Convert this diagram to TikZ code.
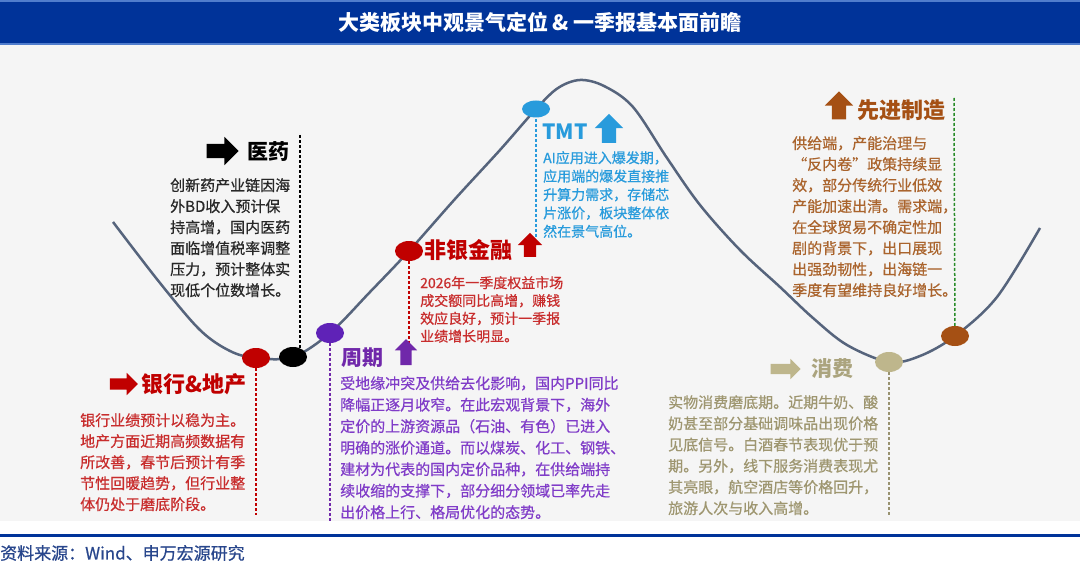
\documentclass[tikz,border=0pt]{standalone}
\usepackage{fontspec}
\setmainfont{Noto Sans CJK SC}
\newfontfamily\bodyfont{Noto Sans CJK SC}[RawFeature={embolden=0.6}]
\usepackage{xcolor}
\usepackage{tikz}
\usetikzlibrary{shapes, shapes.geometric, shapes.arrows, positioning, calc}

\definecolor{titleblue}{RGB}{0,51,153}
\definecolor{titleedge}{RGB}{80,125,205}
\definecolor{bggray}{RGB}{245,245,245}
\definecolor{curvegray}{RGB}{86,100,124}
\definecolor{bankred}{RGB}{192,0,0}
\definecolor{bankbody}{RGB}{200,45,45}
\definecolor{cycpurple}{RGB}{112,40,170}
\definecolor{cycbody}{RGB}{128,60,200}
\definecolor{tmtblue}{RGB}{40,155,220}
\definecolor{consbeige}{RGB}{190,182,140}
\definecolor{consbody}{RGB}{158,150,112}
\definecolor{mfgbrown}{RGB}{165,80,20}
\definecolor{mfgbody}{RGB}{170,100,45}
\definecolor{mfggreen}{RGB}{40,140,40}
\definecolor{medbody}{RGB}{40,40,40}
\definecolor{srcblue}{RGB}{40,70,140}

\begin{document}
\begin{tikzpicture}[x=1pt, y=-1pt,
    dot/.style={ellipse, minimum width=28pt, minimum height=20pt, inner sep=0pt},
    rarrow/.style={single arrow, inner xsep=0pt, inner ysep=#1, single arrow head extend=#1, minimum height=30pt},
    uarrow/.style={single arrow, rotate=90, inner xsep=0pt, inner ysep=#1, single arrow head extend=#1, minimum height=27pt},
    lbl/.style={anchor=west, inner sep=0pt, font=\fontsize{21}{21}\selectfont\bfseries},
    body/.style={anchor=north west, inner sep=0pt, align=left, font=\fontsize{15}{21}\selectfont\bodyfont},
    smallbody/.style={anchor=north west, inner sep=0pt, align=left, font=\fontsize{14}{17.8}\selectfont\bodyfont},
    vline/.style={line width=1.5pt, dash pattern=on 3pt off 2pt},
    curve/.style={line width=2.5pt, color=curvegray}
]
% frame
\useasboundingbox (0,0) rectangle (1080,567);
\fill[white] (0,0) rectangle (1080,567);
\fill[bggray] (0,45) rectangle (1080,521);
\fill[titleblue] (0,0) rectangle (1080,45);
\draw[titleedge, line width=1.5pt] (0,1) -- (1080,1);
\draw[titleedge, line width=1.5pt] (0,44) -- (1080,44);
\node[text=white, font=\fontsize{21}{21}\selectfont\bfseries] (title) at (540,22) {大类板块中观景气定位 \& 一季报基本面前瞻};
\draw[titleblue, line width=3pt] (0,535) -- (1080,535);
\node[anchor=west, inner sep=0pt, text=srcblue, font=\fontsize{17}{17}\selectfont\bodyfont] (src) at (0,553) {资料来源：Wind、申万宏源研究};

% points on the curve
\coordinate (pYH) at (256,358);
\coordinate (pYY) at (293,357);
\coordinate (pZQ) at (330,333);
\coordinate (pFY) at (409,251);
\coordinate (pTMT) at (536,109);
\coordinate (pXF) at (889,362);
\coordinate (pZZ) at (955,336);

\draw[curve] plot[smooth, tension=0.55] coordinates {(113,222) (160,283) (200,330) (230,351) (pYH) (pYY) (pZQ) (370,292) (pFY) (455,199) (500,150) (pTMT) (558,88) (580,80) (604,86) (633,107) (667,158) (700,205) (740,250) (780,287) (813,318) (847,345) (pXF) (920,356) (pZZ) (997,297) (1040,228)};

% end points of the dashed lines
\coordinate (eYH) at (256,515);
\coordinate (eYY) at (300,135);
\coordinate (eZQ) at (330,521);
\coordinate (eFY) at (409,345);
\coordinate (eTMT) at (536,238);
\coordinate (eXF) at (889,515);
\coordinate (eZZ) at (954,98);

\draw[vline, bankred] (pYH) -- (eYH);
\draw[vline, black] (eYY) -- (eYY |- pYY);
\draw[vline, cycpurple] (pZQ) -- (eZQ);
\draw[vline, bankred] (pFY) -- (eFY);
\draw[vline, tmtblue] (pTMT) -- (eTMT);
\draw[vline, consbeige!80!black] (pXF) -- (eXF);
\draw[vline, mfggreen] (eZZ) -- (pZZ);

% dots
\node[dot, fill=bankred] (dYH) at (pYH) {};
\node[dot, fill=black] (dYY) at (pYY) {};
\node[dot, fill=cycpurple!85!blue] (dZQ) at (pZQ) {};
\node[dot, fill=bankred] (dFY) at (pFY) {};
\node[dot, fill=tmtblue, minimum height=17pt] (dTMT) at (pTMT) {};
\node[dot, fill=consbeige] (dXF) at (pXF) {};
\node[dot, fill=mfgbrown] (dZZ) at (pZZ) {};

% 医药
\node[rarrow=7pt, fill=black, minimum height=32pt] (aYY) at (219,151) {};
\node[lbl, right=8pt of aYY] (lYY) {医药};
\node[body, text=medbody] (bYY) at (170,178) {创新药产业链因海\\外BD收入预计保\\持高增，国内医药\\面临增值税率调整\\压力，预计整体实\\现低个位数增长。};

% 银行&地产
\node[rarrow=5.5pt, fill=bankred, minimum height=28pt] (aYH) at (121,384) {};
\node[lbl, text=bankred, font=\fontsize{22}{22}\selectfont\bfseries, right=3pt of aYH] (lYH) {银行\&地产};
\node[body, text=bankbody] (bYH) at (80,413) {银行业绩预计以稳为主。\\地产方面近期高频数据有\\所改善，春节后预计有季\\节性回暖趋势，但行业整\\体仍处于磨底阶段。};

% 周期
\node[lbl, text=cycpurple] (lZQ) at (341,358) {周期};
\node[uarrow=5.5pt, fill=cycpurple, minimum height=26pt] (aZQ) at (406,355) {};
\node[body, text=cycbody, font=\fontsize{15}{21.5}\selectfont\bodyfont] (bZQ) at (340,376) {受地缘冲突及供给去化影响，国内PPI同比\\降幅正逐月收窄。在此宏观背景下，海外\\定价的上游资源品（石油、有色）已进入\\明确的涨价通道。而以煤炭、化工、钢铁、\\建材为代表的国内定价品种，在供给端持\\续收缩的支撑下，部分细分领域已率先走\\出价格上行、格局优化的态势。};

% 非银金融
\node[lbl, text=bankred, font=\fontsize{22}{22}\selectfont\bfseries] (lFY) at (424,250) {非银金融};
\node[uarrow=6pt, fill=bankred, minimum height=24pt] (aFY) at (530,248) {};
\node[smallbody, text=bankbody] (bFY) at (420,276) {2026年一季度权益市场\\成交额同比高增，赚钱\\效应良好，预计一季报\\业绩增长明显。};

% TMT
\node[lbl, text=tmtblue, font=\fontsize{21}{21}\selectfont\bfseries] (lTMT) at (542,132) {TMT};
\node[uarrow=7pt, fill=tmtblue, minimum height=29pt] (aTMT) at (609,132) {};
\node[smallbody, text=tmtblue, font=\fontsize{14}{18.4}\selectfont\bodyfont] (bTMT) at (543,151) {AI应用进入爆发期，\\应用端的爆发直接推\\升算力需求，存储芯\\片涨价，板块整体依\\然在景气高位。};

% 消费
\node[rarrow=5pt, fill=consbeige, minimum height=30pt] (aXF) at (783,369) {};
\node[lbl, text=consbeige!90!black, right=10pt of aXF] (lXF) {消费};
\node[body, text=consbody, font=\fontsize{15}{21.2}\selectfont\bodyfont] (bXF) at (668,395) {实物消费磨底期。近期牛奶、酸\\奶甚至部分基础调味品出现价格\\见底信号。白酒春节表现优于预\\期。另外，线下服务消费表现尤\\其亮眼，航空酒店等价格回升，\\旅游人次与收入高增。};

% 先进制造
\node[uarrow=7pt, fill=mfgbrown, minimum height=28pt] (aZZ) at (839,109) {};
\node[lbl, text=mfgbrown, font=\fontsize{22}{22}\selectfont\bfseries] (lZZ) at (857,110) {先进制造};
\node[body, text=mfgbody] (bZZ) at (792,136) {供给端，产能治理与\\“反内卷”政策持续显\\效，部分传统行业低效\\产能加速出清。需求端，\\在全球贸易不确定性加\\剧的背景下，出口展现\\出强劲韧性，出海链一\\季度有望维持良好增长。};
\end{tikzpicture}
\end{document}
